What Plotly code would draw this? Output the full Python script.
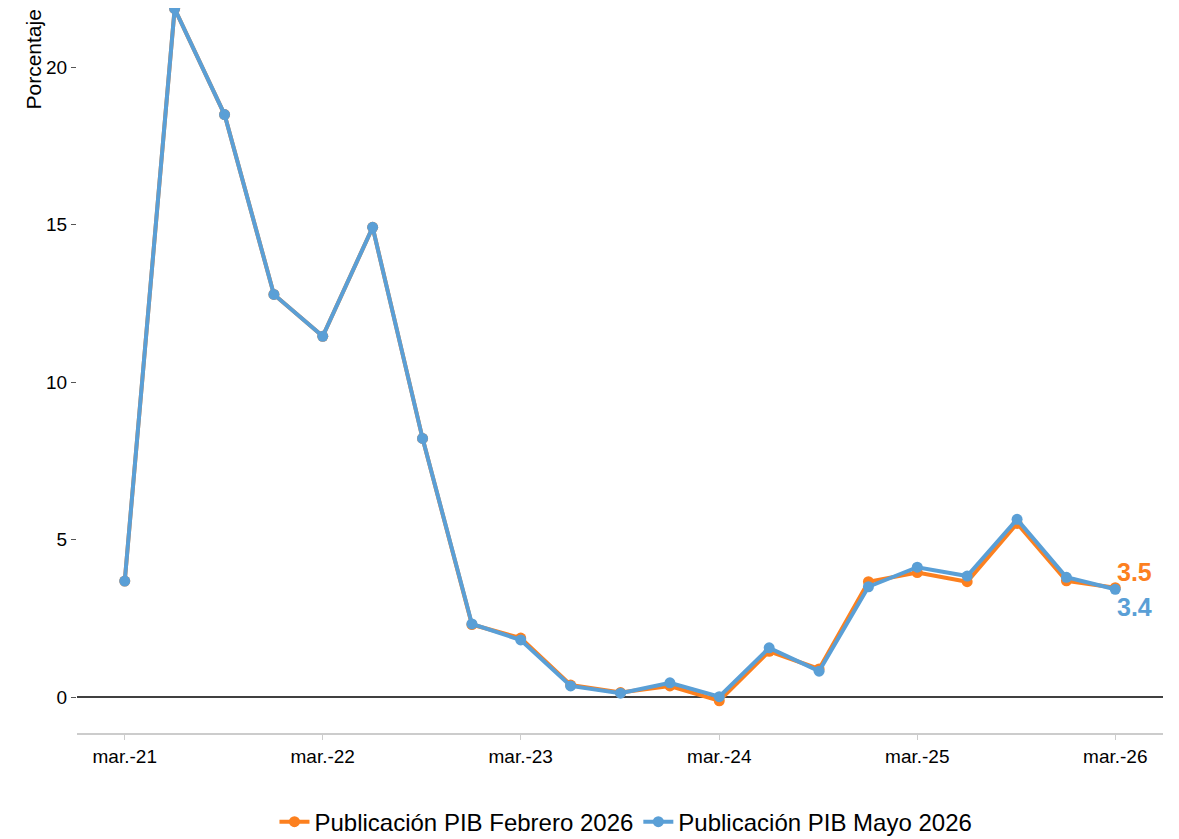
import plotly.graph_objects as go

dates = ["2021-03-01","2021-06-01","2021-09-01","2021-12-01",
         "2022-03-01","2022-06-01","2022-09-01","2022-12-01",
         "2023-03-01","2023-06-01","2023-09-01","2023-12-01",
         "2024-03-01","2024-06-01","2024-09-01","2024-12-01",
         "2025-03-01","2025-06-01","2025-09-01","2025-12-01",
         "2026-03-01"]

feb_2026 = [3.68, 21.85, 18.49, 12.78, 11.45, 14.91, 8.21, 2.30,
            1.87, 0.38, 0.14, 0.35, -0.12, 1.45, 0.89, 3.66,
            3.95, 3.66, 5.51, 3.69, 3.47]
may_2026 = [3.68, 21.85, 18.49, 12.78, 11.45, 14.91, 8.21, 2.32,
            1.81, 0.35, 0.12, 0.45, 0.01, 1.56, 0.82, 3.50,
            4.12, 3.84, 5.64, 3.80, 3.42]

tick_vals = ["2021-03-01","2022-03-01","2023-03-01","2024-03-01","2025-03-01","2026-03-01"]
tick_text = ["mar.-21","mar.-22","mar.-23","mar.-24","mar.-25","mar.-26"]
y_ticks = [0, 5, 10, 15, 20]

ORANGE = "#FC801F"
BLUE = "#5A9FD6"
FONT = "Liberation Sans, Arial, sans-serif"

fig = go.Figure()
fig.add_trace(go.Scatter(x=dates, y=feb_2026, mode="lines+markers",
                         name="Publicación PIB Febrero 2026",
                         line=dict(color=ORANGE, width=4),
                         marker=dict(color=ORANGE, size=11), cliponaxis=False))
fig.add_trace(go.Scatter(x=dates, y=may_2026, mode="lines+markers",
                         name="Publicación PIB Mayo 2026",
                         line=dict(color=BLUE, width=4),
                         marker=dict(color=BLUE, size=11), cliponaxis=False))

fig.add_hline(y=0, line=dict(color="black", width=1.5), layer="below")

fig.add_annotation(x=dates[-1], y=feb_2026[-1], text="<b>3.5</b>", showarrow=False,
                   xanchor="left", yanchor="middle", xshift=0, yshift=16,
                   font=dict(color=ORANGE, size=25, family=FONT))
fig.add_annotation(x=dates[-1], y=may_2026[-1], text="<b>3.4</b>", showarrow=False,
                   xanchor="left", yanchor="middle", xshift=0, yshift=-18,
                   font=dict(color=BLUE, size=25, family=FONT))

fig.add_annotation(xref="paper", yref="paper", x=-0.0285, y=1.0, text="Porcentaje",
                   showarrow=False, textangle=-90, xanchor="right", yanchor="top",
                   font=dict(size=21, color="black", family=FONT))

fig.update_layout(
    width=1171, height=831,
    margin=dict(l=69, r=16, t=0, b=106, autoexpand=False),
    plot_bgcolor="white", paper_bgcolor="white",
    font=dict(family=FONT, color="black"),
    showlegend=True,
    legend=dict(orientation="h", x=0.5055, xanchor="center", y=-0.1228, yanchor="middle",
                font=dict(size=24, color="black"), itemwidth=30, tracegroupgap=0),
    xaxis=dict(range=["2020-12-03", "2026-05-28"], tickvals=tick_vals, ticktext=tick_text,
               showgrid=False, zeroline=False, showline=True, linecolor="#CCCCCC", linewidth=2,
               ticks="outside", ticklen=5, tickcolor="#CCCCCC", tickwidth=1, automargin=False,
               tickfont=dict(size=19, color="black")),
    yaxis=dict(range=[-1.143, 21.873], tickvals=y_ticks, showgrid=False, zeroline=False,
               showline=False, ticks="outside", ticklen=5, tickcolor="#555555", tickwidth=1,
               automargin=False, tickfont=dict(size=19, color="black")),
)

fig.write_html("out.html")
